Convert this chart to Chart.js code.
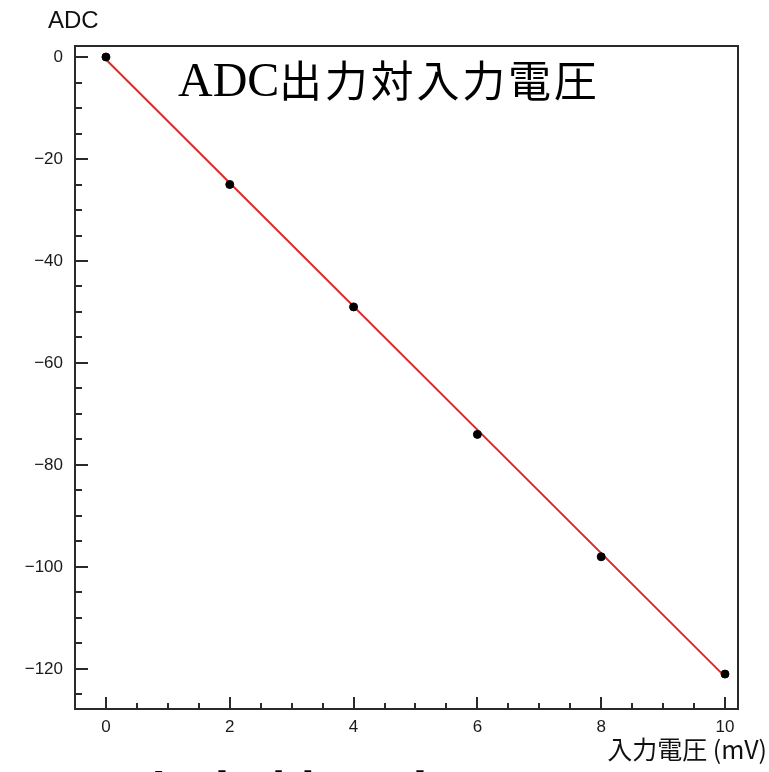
<!DOCTYPE html>
<html>
<head>
<meta charset="utf-8">
<script src="https://cdn.jsdelivr.net/npm/chart.js@4/dist/chart.umd.min.js"></script>
<style>
  html, body { margin: 0; padding: 0; background: #fff; overflow: hidden; }
</style>
</head>
<body>
<canvas id="chart" width="769" height="772"></canvas>
<script>
// Measured points: input voltage (mV) vs ADC output
const voltages = [0, 2, 4, 6, 8, 10];
const adcValues = [0, -25, -49, -74, -98, -121];

// Red fit line end points
const fitX = [0, 10];
const fitY = [-0.5, -121.5];

// Tick labels
const xTickValues = [0, 2, 4, 6, 8, 10];
const yTickValues = [0, -20, -40, -60, -80, -100, -120];

const titleLatin = 'ADC';
const titleCJK = ['出', '力', '対', '入', '力', '電', '圧'];
const yAxisTitle = 'ADC';
const xAxisTitle = '入力電圧 (mV)';

const SANS = '"Liberation Sans", Arial, sans-serif';
const CJK = '"Noto Sans CJK JP", "Noto Sans CJK SC", sans-serif';

// ROOT-like frame, inward ticks and titles
const rootFrame = {
  id: 'rootFrame',
  afterDraw(chart) {
    const { ctx, chartArea: a, scales } = chart;
    const xs = scales.x, ys = scales.y;
    ctx.save();
    ctx.strokeStyle = '#2a2a2a';
    ctx.lineWidth = 2;
    ctx.strokeRect(a.left, a.top, a.right - a.left, a.bottom - a.top);

    // y ticks: major every 20, minor every 5
    ctx.beginPath();
    for (let v = 0; v >= ys.min; v -= 5) {
      const py = Math.round(ys.getPixelForValue(v));
      const len = v % 20 === 0 ? 13 : 7;
      ctx.moveTo(a.left, py);
      ctx.lineTo(a.left + len, py);
    }
    // x ticks: major every 2, minor every 0.5
    for (let v = 0; v <= xs.max; v += 0.5) {
      const px = Math.round(xs.getPixelForValue(v));
      const len = v % 2 === 0 ? 12 : 6;
      ctx.moveTo(px, a.bottom);
      ctx.lineTo(px, a.bottom - len);
    }
    ctx.stroke();

    // axis titles
    ctx.fillStyle = '#111';
    ctx.textBaseline = 'alphabetic';
    ctx.textAlign = 'left';
    ctx.font = '24px ' + SANS;
    ctx.fillText(yAxisTitle, 48, 28);
    ctx.textAlign = 'right';
    ctx.font = '25px ' + CJK;
    ctx.fillText(xAxisTitle, 767, 759);

    // main title inside the frame
    ctx.textAlign = 'left';
    ctx.fillStyle = '#000';
    ctx.font = '48px "Liberation Serif", "Times New Roman", serif';
    ctx.fillText(titleLatin, 178, 96);
    ctx.font = '43px ' + CJK;
    titleCJK.forEach((ch, i) => ctx.fillText(ch, 279 + i * 45.8, 97));

    // large duplicate title cut off by the bottom edge
    ctx.font = 'bold 56px ' + CJK;
    titleCJK.forEach((ch, i) => ctx.fillText(ch, 131 + i * 66, 818));
    ctx.restore();
  }
};

new Chart(document.getElementById('chart'), {
  type: 'scatter',
  data: {
    datasets: [
      {
        label: 'fit',
        type: 'line',
        data: fitX.map((x, i) => ({ x, y: fitY[i] })),
        borderColor: 'rgb(222, 40, 40)',
        borderWidth: 2,
        pointRadius: 0,
        fill: false,
        order: 2
      },
      {
        label: 'ADC',
        data: voltages.map((x, i) => ({ x, y: adcValues[i] })),
        backgroundColor: '#000',
        borderColor: '#000',
        pointRadius: 4,
        pointHoverRadius: 4,
        order: 1
      }
    ]
  },
  options: {
    responsive: false,
    animation: false,
    events: [],
    layout: { padding: { top: 46, right: 31, bottom: 0, left: 0 } },
    plugins: { legend: { display: false }, tooltip: { enabled: false }, title: { display: false } },
    scales: {
      x: {
        type: 'linear',
        min: -0.5,
        max: 10.21,
        afterFit: (s) => { s.height = 63; },
        afterBuildTicks: (s) => { s.ticks = xTickValues.map(v => ({ value: v })); },
        grid: { display: false, drawTicks: false },
        border: { display: false },
        ticks: {
          padding: 8,
          color: '#1a1a1a',
          font: { family: SANS, size: 17 },
          maxRotation: 0
        }
      },
      y: {
        type: 'linear',
        min: -127.85,
        max: 2.16,
        afterFit: (s) => { s.width = 75; },
        afterBuildTicks: (s) => { s.ticks = yTickValues.map(v => ({ value: v })); },
        grid: { display: false, drawTicks: false },
        border: { display: false },
        ticks: {
          padding: 12,
          color: '#1a1a1a',
          font: { family: SANS, size: 17 },
          callback: (v) => v === 0 ? '0' : '\u2212' + Math.abs(v)
        }
      }
    }
  },
  plugins: [rootFrame]
});
</script>
</body>
</html>
